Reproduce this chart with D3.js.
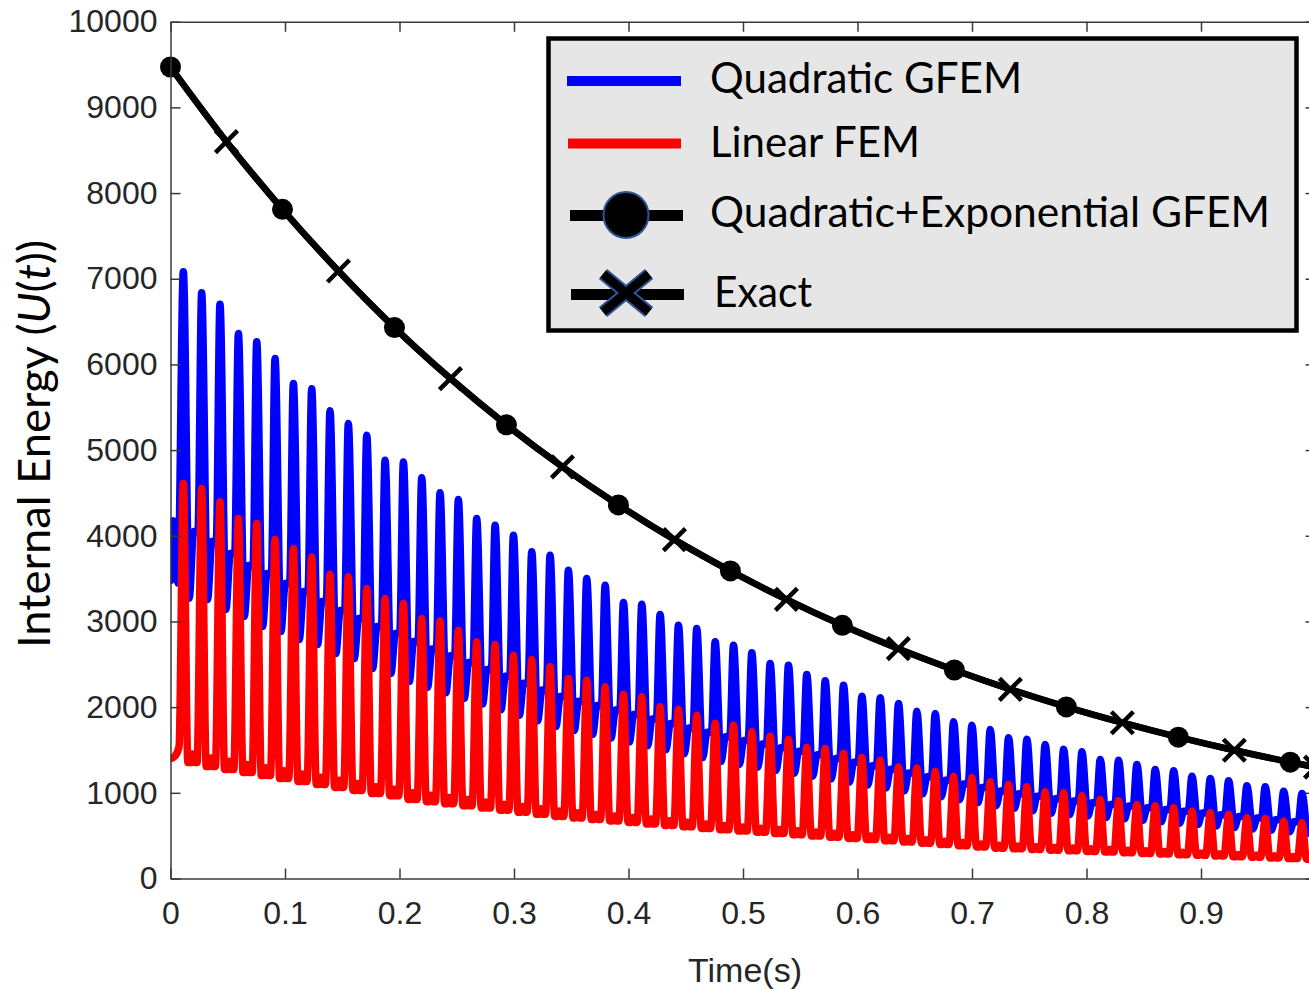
<!DOCTYPE html>
<html>
<head>
<meta charset="utf-8">
<script src="https://cdn.jsdelivr.net/npm/d3@7"></script>
<style>
  html, body { margin: 0; padding: 0; background: #ffffff; }
  svg { display: block; }
</style>
</head>
<body>
<svg id="chart" width="1309" height="989"></svg>
<script>
// ---------------- data ----------------
const xTicks = [0, 0.1, 0.2, 0.3, 0.4, 0.5, 0.6, 0.7, 0.8, 0.9, 1];
const xTickLabels = ["0", "0.1", "0.2", "0.3", "0.4", "0.5", "0.6", "0.7", "0.8", "0.9", ""];
const yTicks = [0, 1000, 2000, 3000, 4000, 5000, 6000, 7000, 8000, 9000, 10000];

const seriesNames = ["Quadratic GFEM", "Linear FEM", "Quadratic+Exponential GFEM", "Exact"];

// times of the oscillation spikes (s)
const peakTimes = [0.0112, 0.0272, 0.0432, 0.0593, 0.0753, 0.0913, 0.1073, 0.1233, 0.1393, 0.1553,
  0.1714, 0.1874, 0.2034, 0.2194, 0.2354, 0.2514, 0.2674, 0.2835, 0.2995, 0.3155,
  0.3315, 0.3475, 0.3635, 0.3796, 0.3956, 0.4116, 0.4276, 0.4436, 0.4596, 0.4757,
  0.4917, 0.5077, 0.5237, 0.5397, 0.5557, 0.5718, 0.5878, 0.6038, 0.6198, 0.6358,
  0.6518, 0.6679, 0.6839, 0.6999, 0.7159, 0.7319, 0.7479, 0.7639, 0.7800, 0.7960,
  0.8120, 0.8280, 0.8440, 0.8600, 0.8761, 0.8921, 0.9081, 0.9241, 0.9401, 0.9561,
  0.9722, 0.9882];

// Quadratic GFEM (blue)
const blueStartTimes = [0, 0.0025, 0.0065];
const blueStartVals = [3480, 4175, 3450];
const bluePeaks = [7081, 6836, 6703, 6361, 6264, 6069, 5777, 5715, 5459, 5310,
  5174, 4882, 4861, 4677, 4502, 4423, 4202, 4123, 4007, 3813,
  3773, 3598, 3501, 3423, 3221, 3201, 3081, 2956, 2918, 2763,
  2723, 2634, 2509, 2490, 2381, 2307, 2256, 2128, 2109, 2042,
  1953, 1926, 1829, 1789, 1739, 1642, 1626, 1564, 1509, 1479,
  1389, 1381, 1331, 1272, 1257, 1194, 1167, 1140, 1082, 1070,
  1019, 992];
const blueBump = [4050, 3933, 3793, 3653, 3560, 3443, 3350, 3233, 3128, 3035,
  2941, 2859, 2766, 2680, 2600, 2520, 2440, 2360, 2280, 2200,
  2124, 2070, 2020, 1966, 1914, 1862, 1810, 1758, 1706, 1654,
  1612, 1570, 1527, 1485, 1443, 1400, 1358, 1316, 1274, 1231,
  1189, 1147, 1104, 1062, 1020, 990, 960, 930, 905, 885,
  865, 845, 825, 805, 785, 765, 745, 725, 705, 685,
  663, 642];
const blueTrough = [3271, 3256, 3140, 3058, 2941, 2883, 2789, 2731, 2626, 2568,
  2451, 2393, 2299, 2233, 2168, 2102, 2037, 1971, 1905, 1840,
  1774, 1729, 1683, 1638, 1593, 1548, 1502, 1457, 1411, 1366,
  1332, 1297, 1263, 1229, 1194, 1160, 1126, 1091, 1057, 1023,
  988, 954, 920, 885, 850, 820, 791, 762, 745, 729,
  712, 696, 679, 662, 645, 629, 612, 596, 579, 562,
  546, 529];

// Linear FEM (red)
const redStartTimes = [0, 0.004, 0.0075];
const redStartVals = [1400, 1430, 1540];
const redPeaks = [4610, 4552, 4397, 4202, 4143, 3957, 3852, 3755, 3552, 3521,
  3385, 3268, 3210, 3035, 3008, 2898, 2763, 2731, 2606, 2556,
  2474, 2334, 2314, 2237, 2151, 2121, 2004, 1972, 1906, 1813,
  1789, 1712, 1661, 1622, 1529, 1517, 1459, 1412, 1381, 1304,
  1292, 1252, 1194, 1179, 1129, 1101, 1070, 1012, 1000, 965,
  922, 907, 864, 849, 825, 785, 767, 750, 708, 700,
  669, 650];
const redTrough = [1354, 1307, 1272, 1237, 1202, 1167, 1132, 1097, 1062, 1027,
  992, 965, 922, 897, 872, 848, 823, 798, 773, 749,
  724, 707, 689, 672, 655, 637, 620, 603, 585, 568,
  554, 540, 525, 511, 497, 482, 468, 454, 440, 425,
  411, 397, 383, 368, 354, 346, 339, 331, 323, 316,
  308, 301, 293, 285, 278, 270, 263, 255, 248, 240,
  232, 225];
const redNotch = [1454, 1405, 1368, 1331, 1294, 1257, 1220, 1183, 1146, 1109,
  1072, 1043, 1000, 972, 946, 921, 894, 868, 841, 815,
  789, 767, 748, 730, 713, 693, 675, 656, 637, 618,
  602, 587, 572, 557, 542, 527, 512, 497, 482, 466,
  451, 436, 420, 404, 389, 379, 371, 363, 355, 347,
  339, 331, 323, 314, 306, 297, 289, 281, 273, 265,
  257, 250];

// Quadratic+Exponential GFEM and Exact (black)
const smoothTimes = [0, 0.0489, 0.0978, 0.1467, 0.1956, 0.2445, 0.2934, 0.3423, 0.3912, 0.4401,
  0.489, 0.5379, 0.5868, 0.6357, 0.6846, 0.7335, 0.7824, 0.8313, 0.8802, 0.9291, 0.978, 1.0];
const quadExpEnergy = [9471, 8600, 7810, 7090, 6430, 5835, 5295, 4805, 4360, 3955,
  3590, 3258, 2955, 2682, 2434, 2208, 2003, 1818, 1650, 1497, 1358, 1300];
const exactEnergy = [9471, 8600, 7810, 7090, 6430, 5835, 5295, 4805, 4360, 3955,
  3590, 3258, 2955, 2682, 2434, 2208, 2003, 1818, 1650, 1497, 1358, 1300];

// ---------------- drawing ----------------
const svg = d3.select("#chart");
svg.append("rect").attr("width", 1309).attr("height", 989).attr("fill", "#ffffff");

const x = d3.scaleLinear().domain([0, 1]).range([170.5, 1315.5]);
const y = d3.scaleLinear().domain([0, 10000]).range([878.5, 21.7]);

const axisColor = "#3a3a3a";
const tickFont = "'Liberation Sans', Arial, Helvetica, sans-serif";

svg.append("clipPath").attr("id", "plotClip")
  .append("rect")
  .attr("x", x(0)).attr("y", y(10000))
  .attr("width", x(1) - x(0)).attr("height", y(0) - y(10000));

// build oscillating paths from the read peaks / troughs
function gapAt(k) {
  return k < peakTimes.length - 1 ? peakTimes[k + 1] - peakTimes[k] : peakTimes[k] - peakTimes[k - 1];
}
const bluePts = blueStartTimes.map((t, i) => [t, blueStartVals[i]]);
peakTimes.forEach((t, k) => {
  const g = gapAt(k);
  bluePts.push([t, bluePeaks[k]]);
  bluePts.push([t + 0.32 * g, blueTrough[k]]);
  bluePts.push([t + 0.56 * g, blueBump[k]]);
  bluePts.push([t + 0.8 * g, blueBump[k]]);
});
const redPts = redStartTimes.map((t, i) => [t, redStartVals[i]]);
peakTimes.forEach((t, k) => {
  const g = gapAt(k);
  redPts.push([t, redPeaks[k]]);
  redPts.push([t + 0.25 * g, redTrough[k]]);
  redPts.push([t + 0.4 * g, redTrough[k]]);
  redPts.push([t + 0.5 * g, redNotch[k]]);
  redPts.push([t + 0.6 * g, redTrough[k]]);
  redPts.push([t + 0.75 * g, redTrough[k]]);
});

const line = d3.line()
  .x(d => x(d[0]))
  .y(d => y(d[1]))
  .curve(d3.curveMonotoneX);

const plot = svg.append("g").attr("clip-path", "url(#plotClip)");
plot.append("path").datum(bluePts)
  .attr("d", line).attr("fill", "none").attr("stroke", "#0000ff")
  .attr("stroke-width", 7.5).attr("stroke-linejoin", "round").attr("stroke-linecap", "round");
plot.append("path").datum(redPts)
  .attr("d", line).attr("fill", "none").attr("stroke", "#ff0000")
  .attr("stroke-width", 7.5).attr("stroke-linejoin", "round").attr("stroke-linecap", "round");

const qePts = smoothTimes.map((t, i) => [t, quadExpEnergy[i]]);
const exPts = smoothTimes.map((t, i) => [t, exactEnergy[i]]);
plot.append("path").datum(qePts)
  .attr("d", line).attr("fill", "none").attr("stroke", "#000000").attr("stroke-width", 6.5);
plot.append("path").datum(exPts)
  .attr("d", line).attr("fill", "none").attr("stroke", "#000000").attr("stroke-width", 6.5);

// markers
const markers = svg.append("g");
markers.selectAll("circle.qe")
  .data(qePts.filter((d, i) => i % 2 === 0 && d[0] <= 0.99))
  .enter().append("circle")
  .attr("class", "qe")
  .attr("cx", d => x(d[0])).attr("cy", d => y(d[1]))
  .attr("r", 10.5).attr("fill", "#000000");
const cs = 11;
markers.selectAll("path.ex")
  .data(exPts.filter((d, i) => i % 2 === 1))
  .enter().append("path")
  .attr("class", "ex")
  .attr("d", d => {
    const cx = x(d[0]), cy = y(d[1]);
    return `M${cx - cs},${cy - cs}L${cx + cs},${cy + cs}M${cx - cs},${cy + cs}L${cx + cs},${cy - cs}`;
  })
  .attr("stroke", "#000000").attr("stroke-width", 4.5).attr("fill", "none");

// axes
const axisG = svg.append("g");
const leftAxis = d3.axisLeft(y).tickValues(yTicks).tickFormat(d3.format("d"))
  .tickSizeInner(-10).tickSizeOuter(0).tickPadding(13);
const gl = axisG.append("g").attr("transform", `translate(${x(0)},0)`).call(leftAxis);
const bottomAxis = d3.axisBottom(x).tickValues(xTicks).tickFormat((d, i) => xTickLabels[i])
  .tickSizeInner(-10).tickSizeOuter(0).tickPadding(23);
const gb = axisG.append("g").attr("transform", `translate(0,${y(0)})`).call(bottomAxis);
const topAxis = d3.axisTop(x).tickValues(xTicks).tickFormat("").tickSizeInner(-10).tickSizeOuter(0);
const gt = axisG.append("g").attr("transform", `translate(0,${y(10000)})`).call(topAxis);
const rightAxis = d3.axisRight(y).tickValues(yTicks).tickFormat("").tickSizeInner(-10).tickSizeOuter(0);
const gr = axisG.append("g").attr("transform", `translate(${x(1)},0)`).call(rightAxis);

[gl, gb, gt, gr].forEach(g => {
  g.select(".domain").attr("stroke", axisColor).attr("stroke-width", 1.5);
  g.selectAll(".tick line").attr("stroke", axisColor).attr("stroke-width", 1.5);
  g.selectAll(".tick text").attr("fill", "#262626")
    .style("font-family", tickFont).style("font-size", "32px");
});

// axis titles
svg.append("text")
  .attr("x", 745).attr("y", 982)
  .attr("text-anchor", "middle")
  .style("font-family", tickFont).style("font-size", "34px").attr("fill", "#262626")
  .text("Time(s)");

const yTitle = svg.append("text")
  .attr("transform", "translate(50,648) rotate(-90)")
  .attr("x", 0).attr("y", 0)
  .attr("textLength", 408).attr("lengthAdjust", "spacingAndGlyphs")
  .style("font-family", "Lato, 'Open Sans', sans-serif").style("font-size", "44px")
  .attr("fill", "#000000");
yTitle.append("tspan").text("Internal Energy (");
yTitle.append("tspan").style("font-style", "italic").text("U");
yTitle.append("tspan").text("(");
yTitle.append("tspan").style("font-style", "italic").text("t");
yTitle.append("tspan").text("))");

// legend
const lg = svg.append("g");
lg.append("rect")
  .attr("x", 548.5).attr("y", 38.5).attr("width", 748).attr("height", 292)
  .attr("fill", "#e6e6e6").attr("stroke", "#000000").attr("stroke-width", 4.5);

const legendFont = "Lato, 'Open Sans', sans-serif";
const legendRows = [
  { name: seriesNames[0], color: "#0000ff", ly: 81, ty: 93, tx: 710, tl: 312, x1: 567, x2: 681, w: 10 },
  { name: seriesNames[1], color: "#ff0000", ly: 143.5, ty: 157, tx: 710, tl: 210, x1: 568, x2: 681, w: 10 },
  { name: seriesNames[2], color: "#000000", ly: 215.5, ty: 227, tx: 710, tl: 560, x1: 570, x2: 683, w: 11 },
  { name: seriesNames[3], color: "#000000", ly: 294.5, ty: 307, tx: 714, tl: 98, x1: 571, x2: 684, w: 11 }
];
legendRows.forEach(r => {
  lg.append("line").attr("x1", r.x1).attr("x2", r.x2).attr("y1", r.ly).attr("y2", r.ly)
    .attr("stroke", r.color).attr("stroke-width", r.w);
  lg.append("text").attr("x", r.tx).attr("y", r.ty)
    .attr("textLength", r.tl).attr("lengthAdjust", "spacingAndGlyphs")
    .style("font-family", legendFont).style("font-size", "42px").attr("fill", "#000000")
    .text(r.name);
});
// legend markers
lg.append("ellipse").attr("cx", 626).attr("cy", 215).attr("rx", 22.5).attr("ry", 23)
  .attr("fill", "#000000").attr("stroke", "#2f5597").attr("stroke-width", 2);
const xm = { cx: 626, cy: 293, hx: 23, hy: 19 };
const xPath = `M${xm.cx - xm.hx},${xm.cy - xm.hy}L${xm.cx + xm.hx},${xm.cy + xm.hy}M${xm.cx - xm.hx},${xm.cy + xm.hy}L${xm.cx + xm.hx},${xm.cy - xm.hy}`;
lg.append("path").attr("d", xPath).attr("stroke", "#2f5597").attr("stroke-width", 13).attr("fill", "none");
lg.append("path").attr("d", xPath).attr("stroke", "#000000").attr("stroke-width", 9).attr("fill", "none");
</script>
</body>
</html>
